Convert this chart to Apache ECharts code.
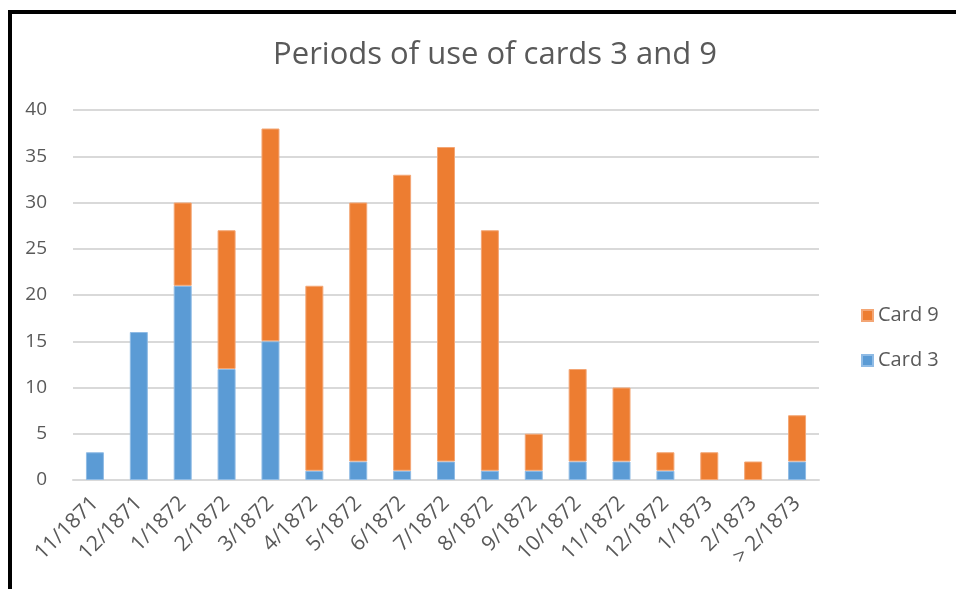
<!DOCTYPE html>
<html>
<head>
<meta charset="utf-8">
<script src="https://cdn.jsdelivr.net/npm/echarts@6/dist/echarts.min.js"></script>
<style>
html,body{margin:0;padding:0;background:#fff;}
#chart{width:956px;height:589px;}
</style>
</head>
<body>
<div id="chart"></div>
<script>
const categories = ['11/1871','12/1871','1/1872','2/1872','3/1872','4/1872','5/1872','6/1872','7/1872','8/1872','9/1872','10/1872','11/1872','12/1872','1/1873','2/1873','> 2/1873'];
const card3 = [3,16,21,12,15,1,2,1,2,1,1,2,2,1,0,0,2];
const card9 = [0,0,9,15,23,20,28,32,34,26,4,10,8,2,3,2,5];
const yTicks = {min:0, max:40, interval:5};

const noZero = arr => arr.map(v => v === 0 ? '-' : v);

const FONT = '"Open Sans", "Noto Sans", sans-serif';
const TXT = '#595959';
const chart = echarts.init(document.getElementById('chart'), null, {renderer:'canvas'});
chart.setOption({
  backgroundColor:'#fff',
  animation:false,
  title:{
    text:'Periods of use of cards 3 and 9',
    left:490, top:35, textAlign:'center',
    textStyle:{fontFamily:FONT, fontSize:31, fontWeight:'normal', color:TXT}
  },
  legend:{
    orient:'vertical', left:861, top:303, itemGap:20, padding:0,
    itemWidth:11, itemHeight:11, icon:'rect',
    data:['Card 9','Card 3'],
    textStyle:{fontFamily:FONT, fontSize:20, color:TXT, lineHeight:25}
  },
  grid:{left:73, right:137, top:110, bottom:109, containLabel:false},
  xAxis:{
    type:'category', data:categories,
    axisLine:{lineStyle:{color:'#d9d9d9', width:2}},
    axisTick:{show:false},
    axisLabel:{rotate:45, interval:0, fontFamily:FONT, fontSize:21, color:TXT, margin:20}
  },
  yAxis:{
    type:'value', min:yTicks.min, max:yTicks.max, interval:yTicks.interval,
    axisLine:{show:false}, axisTick:{show:false},
    splitLine:{lineStyle:{color:'#d9d9d9', width:2}},
    axisLabel:{fontFamily:FONT, fontSize:19, color:TXT, margin:26, align:'right'}
  },
  series:[
    {name:'Card 3', type:'bar', stack:'a', data:noZero(card3), barWidth:'41%',
     itemStyle:{color:'#5b9bd5', borderColor:'#8fbbe5', borderWidth:1}},
    {name:'Card 9', type:'bar', stack:'a', data:noZero(card9), barWidth:'41%',
     itemStyle:{color:'#ed7d31', borderColor:'#f3a675', borderWidth:1}}
  ],
  graphic:[
    {type:'polyline', shape:{points:[[10,600],[10,12],[960,12]]}, style:{stroke:'#000', lineWidth:4, fill:null}}
  ]
});
</script>
</body>
</html>
